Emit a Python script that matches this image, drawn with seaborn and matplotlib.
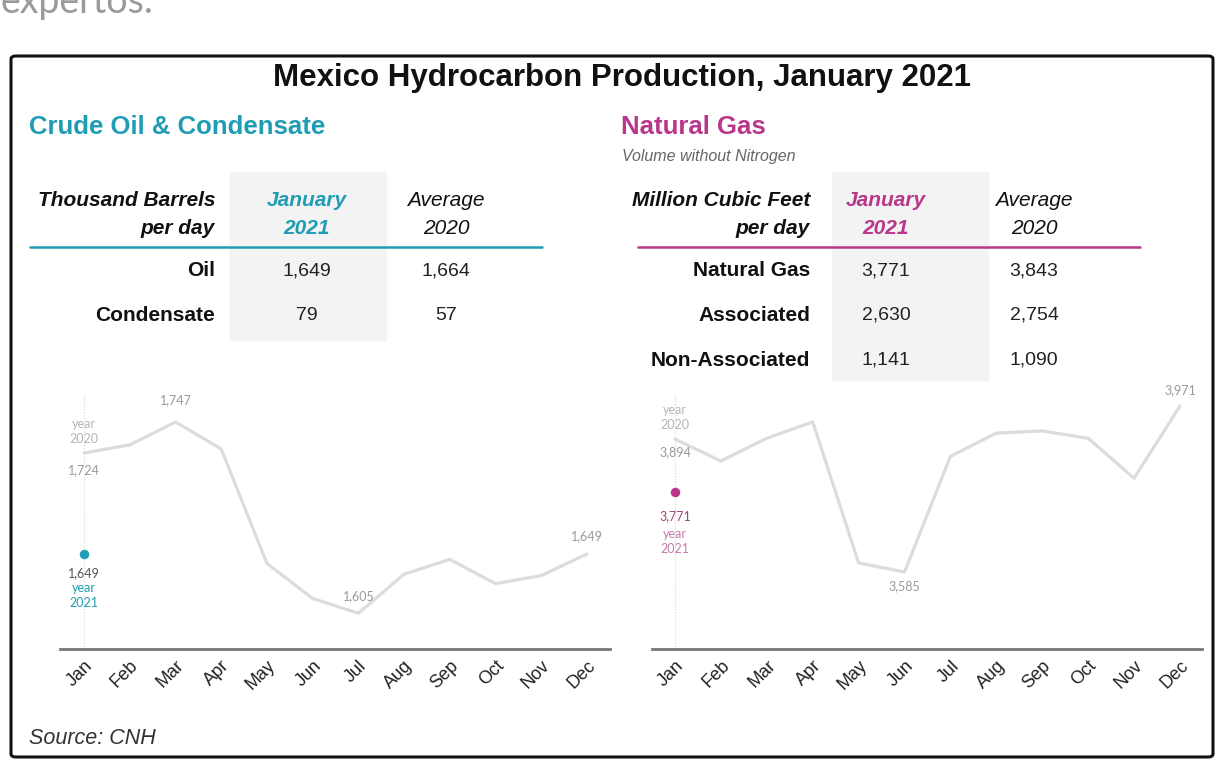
import matplotlib.pyplot as plt
import seaborn as sns
import pandas as pd
from matplotlib.patches import FancyBboxPatch, Rectangle

# --- データ ---
months = ['Jan', 'Feb', 'Mar', 'Apr', 'May', 'Jun',
          'Jul', 'Aug', 'Sep', 'Oct', 'Nov', 'Dec']
oil_2020 = [1724, 1730, 1747, 1727, 1642, 1616, 1605, 1634, 1645, 1627, 1633, 1649]
gas_2020 = [3894, 3843, 3896, 3934, 3606, 3585, 3854, 3908, 3913, 3896, 3803, 3971]
oil_jan_2021 = 1649
gas_jan_2021 = 3771

oil_rows = ['Oil', 'Condensate']
oil_jan = ['1,649', '79']
oil_avg = ['1,664', '57']
gas_rows = ['Natural Gas', 'Associated', 'Non-Associated']
gas_jan = ['3,771', '2,630', '1,141']
gas_avg = ['3,843', '2,754', '1,090']

TEAL = '#1f9db5'
MAGENTA = '#b9368a'
LINE = '#dcdcdc'
ANN = '#9a9a9a'

sns.set_theme(style='white')
plt.rcParams['font.family'] = ['Liberation Sans', 'DejaVu Sans']

W, H = 1218, 761
fig = plt.figure(figsize=(W / 100, H / 100), dpi=100)


def fx(x):
    return x / W


def fy(y):
    return 1 - y / H


def txt(x, y, s, **kw):
    fig.text(fx(x), fy(y), s, **kw)


# 上部の切れた文字（元画像でも上が切れている）
txt(0, 13, 'expertos.', fontsize=27, color='#9a9a9a', family=['Lato', 'DejaVu Sans'],
    ha='left', va='baseline')

# 外枠
fig.patches.append(FancyBboxPatch((fx(11), fy(757)), fx(1202), (757 - 56) / H,
                                  boxstyle='round,pad=0,rounding_size=0.004',
                                  transform=fig.transFigure, fill=False,
                                  edgecolor='#111111', linewidth=2.2))

txt(622, 78, 'Mexico Hydrocarbon Production, January 2021', fontsize=22.5,
    fontweight='bold', color='#111111', ha='center', va='center')
txt(29, 127, 'Crude Oil & Condensate', fontsize=18.5, fontweight='bold',
    color=TEAL, ha='left', va='center')
txt(621, 127, 'Natural Gas', fontsize=18.5, fontweight='bold',
    color=MAGENTA, ha='left', va='center')
txt(622, 157, 'Volume without Nitrogen', fontsize=11.5, style='italic',
    color='#666666', ha='left', va='center')

FS = 15


def table(label_x, c1, c2, shade, line_x, color, unit, rows, jan, avg):
    fig.patches.append(Rectangle((fx(shade[0]), fy(shade[3])),
                                 fx(shade[1] - shade[0]), (shade[3] - shade[2]) / H,
                                 transform=fig.transFigure, color='#f3f3f3',
                                 zorder=0))
    txt(label_x, 201, unit[0], fontsize=FS, fontweight='bold', style='italic',
        color='#111111', ha='right', va='center')
    txt(label_x, 228, unit[1], fontsize=FS, fontweight='bold', style='italic',
        color='#111111', ha='right', va='center')
    txt(c1, 201, 'January', fontsize=FS, fontweight='bold', style='italic',
        color=color, ha='center', va='center')
    txt(c1, 228, '2021', fontsize=FS, fontweight='bold', style='italic',
        color=color, ha='center', va='center')
    txt(c2, 201, 'Average', fontsize=FS, style='italic',
        color='#111111', ha='center', va='center')
    txt(c2, 228, '2020', fontsize=FS, style='italic',
        color='#111111', ha='center', va='center')
    fig.add_artist(plt.Line2D([fx(line_x[0]), fx(line_x[1])], [fy(247), fy(247)],
                              transform=fig.transFigure, color=color, lw=1.8))
    for i, r in enumerate(rows):
        y = 271 + i * 44.5
        txt(label_x, y, r, fontsize=FS, fontweight='bold', color='#111111',
            ha='right', va='center')
        txt(c1, y, jan[i], fontsize=14, color='#222222', ha='center', va='center')
        txt(c2, y, avg[i], fontsize=14, color='#222222', ha='center', va='center')


table(215, 307, 446, (230, 386, 172, 340), (30, 542), TEAL,
      ('Thousand Barrels', 'per day'), oil_rows, oil_jan, oil_avg)
table(810, 886, 1034, (832, 988, 172, 380), (638, 1140), MAGENTA,
      ('Million Cubic Feet', 'per day'), gas_rows, gas_jan, gas_avg)


def chart(left, right, jan_px, dec_px, values, ref_val, ref_px, slope,
          jan21, color):
    top, bottom = 380, 649
    ax = fig.add_axes([fx(left), fy(bottom), fx(right - left), (bottom - top) / H])
    step = (dec_px - jan_px) / 11
    ax.set_xlim((left - jan_px) / step, (right - jan_px) / step)
    ax.set_ylim(ref_val - (bottom - ref_px) / slope, ref_val + (ref_px - top) / slope)
    df = pd.DataFrame({'m': range(12), 'v': values})
    sns.lineplot(data=df, x='m', y='v', ax=ax, color=LINE, lw=2.3)
    ax.axvline(0, ymax=0.95, color='#e2e2e2', lw=1, ls=(0, (1, 1)), zorder=0)
    ax.scatter([0], [jan21], s=34, color=color, zorder=3)
    ax.set_xticks(range(12))
    ax.set_xticklabels(months, rotation=45, ha='right', rotation_mode='anchor',
                       fontsize=13, color='#222222')
    ax.tick_params(axis='x', length=0, pad=6)
    ax.set_yticks([])
    ax.set_xlabel('')
    ax.set_ylabel('')
    for s in ['top', 'left', 'right']:
        ax.spines[s].set_visible(False)
    ax.spines['bottom'].set_color('#777777')
    ax.spines['bottom'].set_linewidth(2)
    ax.patch.set_alpha(0)
    return ax


lato = ['Lato', 'DejaVu Sans']
AFS = 9
LS = 1.3

# 原油チャート
ax1 = chart(60, 610, 84, 587, oil_2020, oil_jan_2021, 554, 1.347, oil_jan_2021, TEAL)
ax1.text(0, oil_2020[0] + 6, 'year\n2020', fontsize=AFS, color='#b5b5b5',
         family=lato, ha='center', va='bottom', linespacing=LS)
ax1.text(0, oil_2020[0] - 8, f'{oil_2020[0]:,}', fontsize=AFS, color=ANN,
         family=lato, ha='center', va='top')
ax1.text(2, oil_2020[2] + 12, f'{oil_2020[2]:,}', fontsize=AFS, color=ANN,
         family=lato, ha='center', va='bottom')
ax1.text(6, oil_2020[6] + 8, f'{oil_2020[6]:,}', fontsize=AFS, color=ANN,
         family=lato, ha='center', va='bottom')
ax1.text(11, oil_2020[11] + 9, f'{oil_2020[11]:,}', fontsize=AFS, color=ANN,
         family=lato, ha='center', va='bottom')
ax1.text(0, oil_jan_2021 - 10, f'{oil_jan_2021:,}', fontsize=AFS, color='#555555',
         family=lato, ha='center', va='top')
ax1.text(0, oil_jan_2021 - 21, 'year\n2021', fontsize=AFS, color=TEAL,
         family=lato, ha='center', va='top', linespacing=LS)

# 天然ガスチャート
ax2 = chart(652, 1202, 675, 1180, gas_2020, gas_jan_2021, 492, 0.43, gas_jan_2021, MAGENTA)
ax2.text(0, gas_2020[0] + 18, 'year\n2020', fontsize=AFS, color='#b5b5b5',
         family=lato, ha='center', va='bottom', linespacing=LS)
ax2.text(0, gas_2020[0] - 16, f'{gas_2020[0]:,}', fontsize=AFS, color=ANN,
         family=lato, ha='center', va='top')
ax2.text(5, gas_2020[5] - 20, f'{gas_2020[5]:,}', fontsize=AFS, color=ANN,
         family=lato, ha='center', va='top')
ax2.text(11, gas_2020[11] + 22, f'{gas_2020[11]:,}', fontsize=AFS, color=ANN,
         family=lato, ha='center', va='bottom')
ax2.text(0, gas_jan_2021 - 42, f'{gas_jan_2021:,}', fontsize=AFS, color='#a0457e',
         family=lato, ha='center', va='top')
ax2.text(0, gas_jan_2021 - 84, 'year\n2021', fontsize=AFS, color='#c77aab',
         family=lato, ha='center', va='top', linespacing=LS)

txt(29, 738, 'Source: CNH', fontsize=15.5, style='italic', color='#333333',
    ha='left', va='center')

fig.savefig('out.png', dpi=100)
